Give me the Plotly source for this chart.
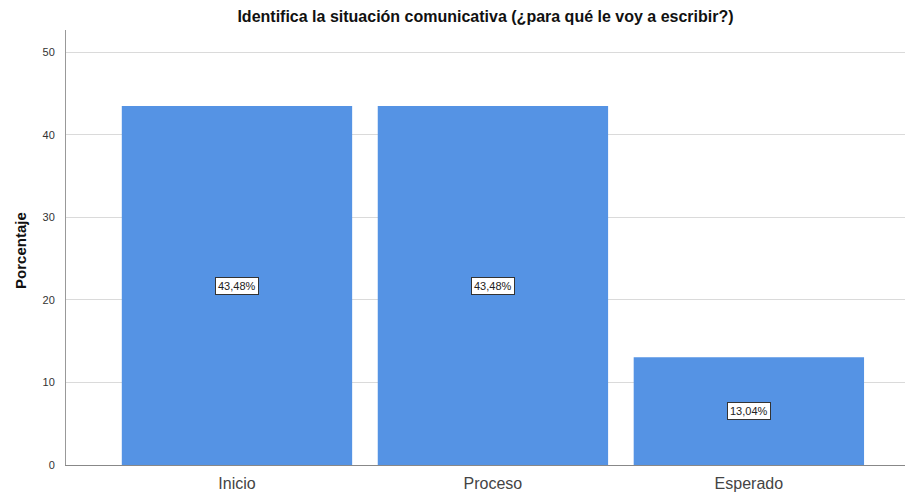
import plotly.graph_objects as go

categorias = ["Inicio", "Proceso", "Esperado"]
porcentajes = [43.48, 43.48, 13.04]
etiquetas = ["43,48%", "43,48%", "13,04%"]

fig = go.Figure(go.Bar(
    x=categorias,
    y=porcentajes,
    marker=dict(color="#5593E4", line=dict(width=0)),
    width=0.9,
    hoverinfo="skip",
))

# etiquetas en cajitas blancas a media altura de cada barra
for c, v, t in zip(categorias, porcentajes, etiquetas):
    fig.add_annotation(
        x=c, y=v / 2, text=t, showarrow=False,
        font=dict(family="Liberation Sans, Arial", size=11, color="#222"),
        bgcolor="white", bordercolor="#333", borderwidth=1, borderpad=2,
    )

# titulo del eje y a mano
fig.add_annotation(
    text="<b>Porcentaje</b>", xref="paper", yref="paper",
    x=-0.055, y=0.494, xanchor="center", yanchor="middle",
    textangle=-90, showarrow=False,
    font=dict(family="Liberation Sans, Arial", size=15, color="#111"),
)

# la pagina tiene 8px de margen en el body, de ahi el tamaño
fig.update_layout(
    width=905, height=487,
    margin=dict(l=58, r=8, t=22, b=30),
    paper_bgcolor="white", plot_bgcolor="white",
    showlegend=False,
    title=dict(
        text="<b>Identifica la situación comunicativa (¿para qué le voy a escribir?)</b>",
        x=0.5, xref="paper", xanchor="center", y=0.982, yanchor="middle",
        font=dict(family="Liberation Sans, Arial", size=16, color="#111"),
    ),
    font=dict(family="Liberation Sans, Arial", color="#333"),
)

fig.update_xaxes(
    range=[-0.668, 2.61],
    showline=True, linecolor="#888", linewidth=1,
    showgrid=False, ticks="", ticklabelstandoff=4,
    tickfont=dict(size=16, color="#444"),
    automargin=False,
    fixedrange=True,
)
fig.update_yaxes(
    range=[0, 52.7],
    tickvals=[0, 10, 20, 30, 40, 50],
    showline=True, linecolor="#999", linewidth=1,
    showgrid=True, gridcolor="#dadada", gridwidth=1,
    ticks="outside", ticklen=8, tickcolor="rgba(0,0,0,0)",
    tickfont=dict(size=11, color="#333"),
    automargin=False,
    zeroline=False,
    fixedrange=True,
)

fig.write_html("out.html")
